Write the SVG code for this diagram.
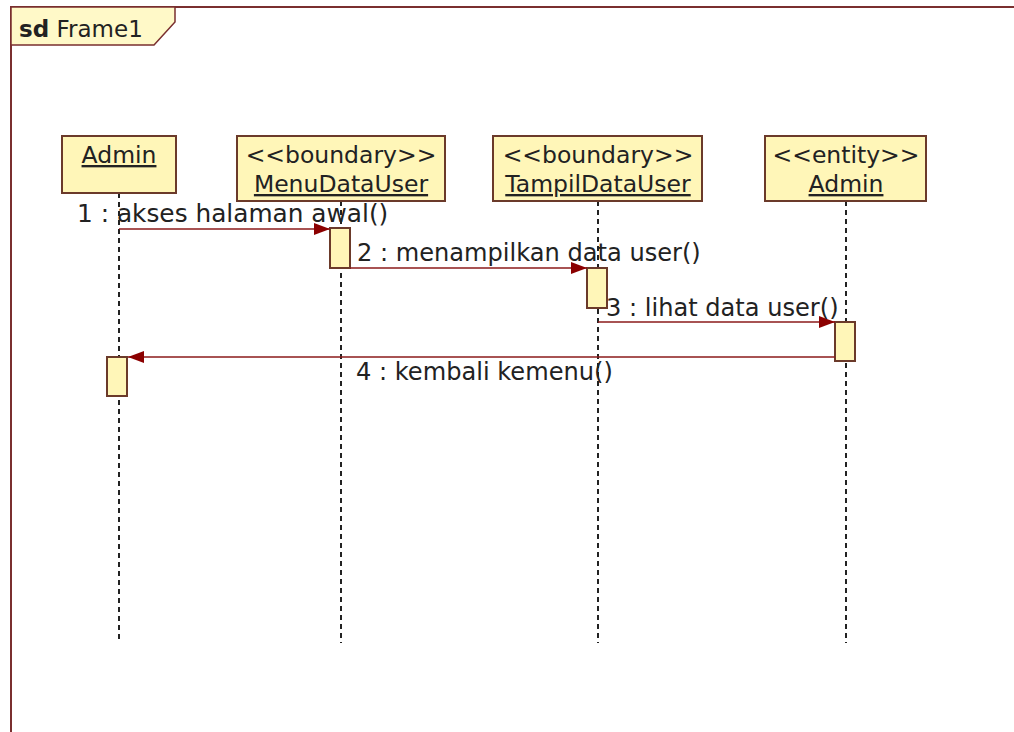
<svg xmlns="http://www.w3.org/2000/svg" width="1014" height="732" viewBox="0 0 1014 732">
  <style>
    .frame { fill: none; stroke: #7a2f2f; stroke-width: 2; }
    .tab { fill: #fff9c8; stroke: #7a2f2f; stroke-width: 1.5; }
    .head { fill: #fff6b8; stroke: #6b3a2a; stroke-width: 2; }
    .act { fill: #fff6b8; stroke: #6b3a2a; stroke-width: 2; }
    .life { stroke: #222; stroke-width: 2; stroke-dasharray: 5 4; fill: none; }
    .msg { stroke: #8b1a1a; stroke-width: 1.6; fill: none; }
    text { font-family: "DejaVu Sans", Verdana, sans-serif; font-size: 23.5px; fill: #222; }
    .lbl { font-size: 24.1px; }
    .c { text-anchor: middle; }
    .u { text-decoration: underline; }
  </style>
  <defs>
    <marker id="arrow" markerWidth="16" markerHeight="12" refX="16" refY="6" orient="auto" markerUnits="userSpaceOnUse">
      <path d="M0,0 L16,6 L0,12 Z" fill="#8b0000"/>
    </marker>
  </defs>

  <rect width="1014" height="732" fill="#ffffff"/>

  <!-- frame with name tab -->
  <g id="frame">
    <rect class="frame" x="11" y="7" width="1012" height="734"/>
    <path class="tab" d="M11,7 H175 V22 L154,45 H11 Z"/>
    <text x="19" y="37" style="font-size:23px"><tspan font-weight="bold">sd</tspan> Frame1</text>
  </g>

  <!-- lifelines -->
  <g id="lifelines">
    <line class="life" x1="119" y1="193" x2="119" y2="643"/>
    <line class="life" x1="341" y1="201" x2="341" y2="643"/>
    <line class="life" x1="598" y1="201" x2="598" y2="643"/>
    <line class="life" x1="846" y1="201" x2="846" y2="643"/>
  </g>

  <g id="admin">
    <rect class="head" x="62" y="136" width="114" height="57"/>
    <text class="c u" x="119" y="163">Admin</text>
  </g>

  <g id="menuDataUser">
    <rect class="head" x="237" y="136" width="208" height="65"/>
    <text class="c" x="341" y="163">&lt;&lt;boundary&gt;&gt;</text>
    <text class="c u" x="341" y="192">MenuDataUser</text>
  </g>

  <g id="tampilDataUser">
    <rect class="head" x="493" y="136" width="209" height="65"/>
    <text class="c" x="598" y="163">&lt;&lt;boundary&gt;&gt;</text>
    <text class="c u" x="598" y="192">TampilDataUser</text>
  </g>

  <g id="entityAdmin">
    <rect class="head" x="765" y="136" width="161" height="65"/>
    <text class="c" x="846" y="163">&lt;&lt;entity&gt;&gt;</text>
    <text class="c u" x="846" y="192">Admin</text>
  </g>

  <!-- activation bars -->
  <g id="activations">
    <rect class="act" x="330" y="228" width="20" height="40"/>
    <rect class="act" x="587" y="268" width="20" height="40"/>
    <rect class="act" x="835" y="322" width="20" height="39"/>
    <rect class="act" x="107" y="357" width="20" height="39"/>
  </g>

  <!-- messages -->
  <g id="connectors">
    <line class="msg" x1="119" y1="229" x2="330" y2="229" marker-end="url(#arrow)"/>
    <line class="msg" x1="350" y1="268" x2="587" y2="268" marker-end="url(#arrow)"/>
    <line class="msg" x1="598" y1="322" x2="835" y2="322" marker-end="url(#arrow)"/>
    <line class="msg" x1="835" y1="357" x2="128" y2="357" marker-end="url(#arrow)"/>
    <text class="lbl" x="77" y="222" style="font-size:24.8px">1 : akses halaman awal()</text>
    <text class="lbl" x="357" y="261">2 : menampilkan data user()</text>
    <text class="lbl" x="606" y="316">3 : lihat data user()</text>
    <text class="lbl" x="356" y="380">4 : kembali kemenu()</text>
  </g>
</svg>
